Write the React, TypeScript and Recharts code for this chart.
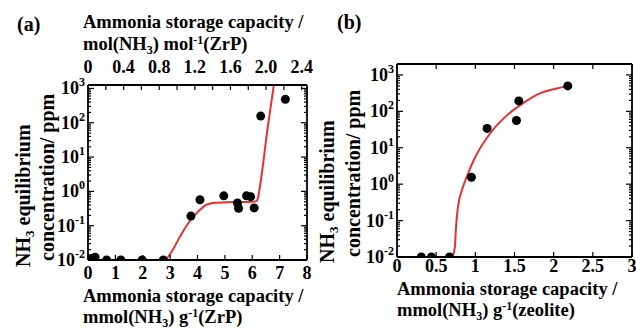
import { ComposedChart, Line, Scatter, XAxis, YAxis } from "recharts";

// Panel (a): ZrP, panel (b): zeolite. Concentrations are ppm, x in mmol/g.
const pointsAX = [0.1, 0.26, 0.68, 1.2, 1.98, 2.75, 3.76, 4.09, 4.96, 5.46, 5.5, 5.79, 5.94, 6.07, 6.31, 7.21];
const pointsAY = [0.011, 0.012, 0.01, 0.01, 0.01, 0.01, 0.19, 0.57, 0.74, 0.46, 0.32, 0.74, 0.7, 0.33, 156, 480];

const curveAX = [0, 2.8, 2.93, 3.1, 3.36, 3.6, 3.84, 4.09, 4.3, 4.57, 5.0, 5.5, 6.0, 6.15, 6.22, 6.28, 6.4, 6.52, 6.64, 6.79];
const curveAY = [0.01, 0.01, 0.0125, 0.02, 0.048, 0.1, 0.18, 0.29, 0.4, 0.46, 0.48, 0.49, 0.5, 0.52, 0.7, 1.38, 6.6, 40, 190, 1300];

const pointsBX = [0.31, 0.44, 0.67, 0.95, 1.15, 1.525, 1.555, 2.18];
const pointsBY = [0.01, 0.01, 0.01, 1.55, 34, 56, 193, 500];

const curveBX = [0, 0.69, 0.72, 0.74, 0.75, 0.76, 0.78, 0.83, 0.9, 0.98, 1.19, 1.41, 1.62, 1.83, 2.05, 2.23];
const curveBY = [0.01, 0.01, 0.012, 0.02, 0.05, 0.1, 0.25, 0.7, 1.8, 4.6, 25, 80, 174, 316, 430, 525];

// tick values
const ticksA = [0, 1, 2, 3, 4, 5, 6, 7, 8];
const ticksATop = [0, 0.2, 0.4, 0.6, 0.8, 1.0, 1.2, 1.4, 1.6, 1.8, 2.0, 2.2, 2.4];
const labelsATop = ["0", "0.4", "0.8", "1.2", "1.6", "2.0", "2.4"];
const ticksB = [0, 0.5, 1, 1.5, 2, 2.5, 3];
const decades = [0.01, 0.1, 1, 10, 100, 1000];
const minorMult = [2, 3, 4, 5, 6, 7, 8, 9];
const logTicks = decades.concat(
  decades.slice(0, 5).flatMap((d) => minorMult.map((m) => d * m)),
);

const toRows = (xs: number[], ys: number[]) => xs.map((x, i) => ({ x, y: ys[i] }));

const FONT = '"Liberation Serif", "Times New Roman", serif';
const RED = "#e8302f";
const TICK_FS = 18;
const axisLine = { stroke: "#000", strokeWidth: 1.8 };

const isMajor = (v: number) => Math.abs(Math.log10(v) - Math.round(Math.log10(v))) < 1e-6;

const LogTick = (p: any) => {
  const { x, y, payload, side } = p;
  const v = payload.value as number;
  const major = isMajor(v);
  const len = major ? 6 : 3;
  const dir = side === "left" ? 1 : -1;
  const exp = Math.round(Math.log10(v));
  return (
    <g>
      <line x1={x} x2={x + dir * len} y1={y} y2={y} stroke="#000" strokeWidth={1.2} />
      {major && side === "left" && (
        <text x={x - 3} y={y} dy={6} textAnchor="end" style={{ fontFamily: FONT }} fontWeight="bold" fontSize={TICK_FS} fill="#000">
          10<tspan dy={-8} fontSize={12}>{exp}</tspan>
        </text>
      )}
    </g>
  );
};

const XTick = (p: any) => {
  const { x, y, payload, side, labels, gap } = p;
  const v = payload.value as number;
  const dir = side === "bottom" ? -1 : 1;
  let label: string | null = null;
  if (labels === "plain") label = String(v);
  if (labels === "top") {
    const s = v === 0 ? "0" : v.toFixed(1);
    label = labelsATop.includes(s) ? s : null;
  }
  return (
    <g>
      <line x1={x} x2={x} y1={y} y2={y + dir * 5} stroke="#000" strokeWidth={1.2} />
      {label !== null && (
        <text x={x} y={side === "bottom" ? y + gap : y - gap} textAnchor="middle" style={{ fontFamily: FONT }} fontWeight="bold" fontSize={TICK_FS} fill="#000">
          {label}
        </text>
      )}
    </g>
  );
};

const Dot = (p: any) => <circle cx={p.cx} cy={p.cy} r={4.5} fill="#000" />;

interface PanelProps {
  width: number;
  height: number;
  box: { top: number; right: number; bottom: number; left: number };
  xDomain: [number, number];
  xTicks: number[];
  topDomain: [number, number];
  topTicks: number[];
  topLabels: string;
  yMax: number;
  points: { x: number; y: number }[];
  curve: { x: number; y: number }[];
  bottomGap: number;
}

// axis sizes; the plot box edge = margin + axis size
const AX_TOP = 30;
const AX_BOTTOM = 30;
const AX_LEFT = 40;
const AX_RIGHT = 3;

function Panel(props: PanelProps) {
  const { width, height, box, xDomain, xTicks, topDomain, topTicks, topLabels, yMax, points, curve, bottomGap } = props;
  const margin = {
    top: box.top - AX_TOP,
    bottom: box.bottom - AX_BOTTOM,
    left: box.left - AX_LEFT,
    right: box.right - AX_RIGHT,
  };
  // the top (secondary) axis needs a series of its own to get ticks; this one is not drawn
  const topAnchor = [
    { x: topDomain[0], y: 0.01 },
    { x: topDomain[1], y: 0.01 },
  ];
  return (
    <ComposedChart width={width} height={height} margin={margin}>
      <XAxis
        dataKey="x"
        type="number"
        domain={xDomain}
        ticks={xTicks}
        interval={0}
        allowDataOverflow
        height={AX_BOTTOM}
        tickSize={0}
        tickMargin={0}
        tickLine={false}
        axisLine={axisLine}
        tick={(p: any) => <XTick {...p} side="bottom" labels="plain" gap={bottomGap} />}
      />
      <XAxis
        xAxisId="top"
        dataKey="x"
        orientation="top"
        type="number"
        domain={topDomain}
        ticks={topTicks}
        interval={0}
        allowDataOverflow
        height={AX_TOP}
        tickSize={0}
        tickMargin={0}
        tickLine={false}
        axisLine={axisLine}
        tick={(p: any) => <XTick {...p} side="top" labels={topLabels} gap={12} />}
      />
      <YAxis
        type="number"
        scale="log"
        domain={[0.01, yMax]}
        ticks={logTicks}
        interval={0}
        allowDataOverflow
        width={AX_LEFT}
        tickSize={0}
        tickMargin={0}
        tickLine={false}
        axisLine={axisLine}
        tick={(p: any) => <LogTick {...p} side="left" />}
      />
      <YAxis
        yAxisId="right"
        orientation="right"
        type="number"
        scale="log"
        domain={[0.01, yMax]}
        ticks={logTicks}
        interval={0}
        allowDataOverflow
        width={AX_RIGHT}
        tickSize={0}
        tickMargin={0}
        tickLine={false}
        axisLine={axisLine}
        tick={(p: any) => <LogTick {...p} side="right" />}
      />
      <Line
        xAxisId="top"
        yAxisId="right"
        data={topAnchor}
        dataKey="y"
        stroke="none"
        dot={false}
        activeDot={false}
        legendType="none"
        isAnimationActive={false}
      />
      <Line
        data={curve}
        dataKey="y"
        type="monotone"
        stroke={RED}
        strokeWidth={2}
        dot={false}
        activeDot={false}
        isAnimationActive={false}
      />
      <Scatter data={points} dataKey="y" shape={Dot} isAnimationActive={false} />
    </ComposedChart>
  );
}

const txt = { style: { fontFamily: FONT }, fontWeight: "bold" as const, fill: "#000" };

function YTitle({ x1, x2, y1, y2 }: { x1: number; x2: number; y1: number; y2: number }) {
  return (
    <g>
      <text x={x1} y={y1} transform={`rotate(-90, ${x1}, ${y1})`} fontSize={20} {...txt}>
        NH<tspan dy={4} fontSize={13}>3</tspan>
        <tspan dy={-4}> equilibrium</tspan>
      </text>
      <text x={x2} y={y2} transform={`rotate(-90, ${x2}, ${y2})`} fontSize={20} {...txt}>
        concentration/ ppm
      </text>
    </g>
  );
}

function XTitle({ x, y1, y2, unit }: { x: number; y1: number; y2: number; unit: "g-ZrP" | "g-zeolite" | "mol" }) {
  return (
    <g>
      <text x={x} y={y1} fontSize={18.5} {...txt}>
        Ammonia storage capacity /
      </text>
      <text x={x} y={y2} fontSize={18.5} {...txt}>
        {unit === "mol" ? "mol(NH" : "mmol(NH"}
        <tspan dy={4} fontSize={12}>3</tspan>
        <tspan dy={-4}>{unit === "mol" ? ") mol" : ") g"}</tspan>
        <tspan dy={-6} fontSize={12}>-1</tspan>
        <tspan dy={6}>{unit === "g-zeolite" ? "(zeolite)" : "(ZrP)"}</tspan>
      </text>
    </g>
  );
}

export default function App() {
  return (
    <div style={{ position: "absolute", left: 0, top: 0, width: 636, height: 329, background: "#fff", overflow: "hidden" }}>
      <div style={{ position: "absolute", left: 0, top: 0 }}>
        <Panel
          width={320}
          height={329}
          box={{ top: 85, right: 13, bottom: 69, left: 88 }}
          xDomain={[0, 8]}
          xTicks={ticksA}
          topDomain={[0, 2.46]}
          topTicks={ticksATop}
          topLabels="top"
          yMax={1259}
          points={toRows(pointsAX, pointsAY)}
          curve={toRows(curveAX, curveAY)}
          bottomGap={19}
        />
      </div>
      <div style={{ position: "absolute", left: 320, top: 0 }}>
        <Panel
          width={316}
          height={329}
          box={{ top: 64, right: 4, bottom: 72, left: 77 }}
          xDomain={[0, 3]}
          xTicks={ticksB}
          topDomain={[0, 3]}
          topTicks={ticksB}
          topLabels="none"
          yMax={1995}
          points={toRows(pointsBX, pointsBY)}
          curve={toRows(curveBX, curveBY)}
          bottomGap={15}
        />
      </div>
      <svg width={636} height={329} style={{ position: "absolute", left: 0, top: 0, pointerEvents: "none" }}>
        <text x={17} y={31} fontSize={20} {...txt}>(a)</text>
        <text x={337} y={29} fontSize={20} {...txt}>(b)</text>
        <XTitle x={83} y1={28} y2={50} unit="mol" />
        <XTitle x={83} y1={302} y2={323} unit="g-ZrP" />
        <XTitle x={397} y1={295} y2={316} unit="g-zeolite" />
        <YTitle x1={30} x2={54} y1={267} y2={261} />
        <YTitle x1={334} x2={360} y1={263} y2={257} />
      </svg>
    </div>
  );
}
